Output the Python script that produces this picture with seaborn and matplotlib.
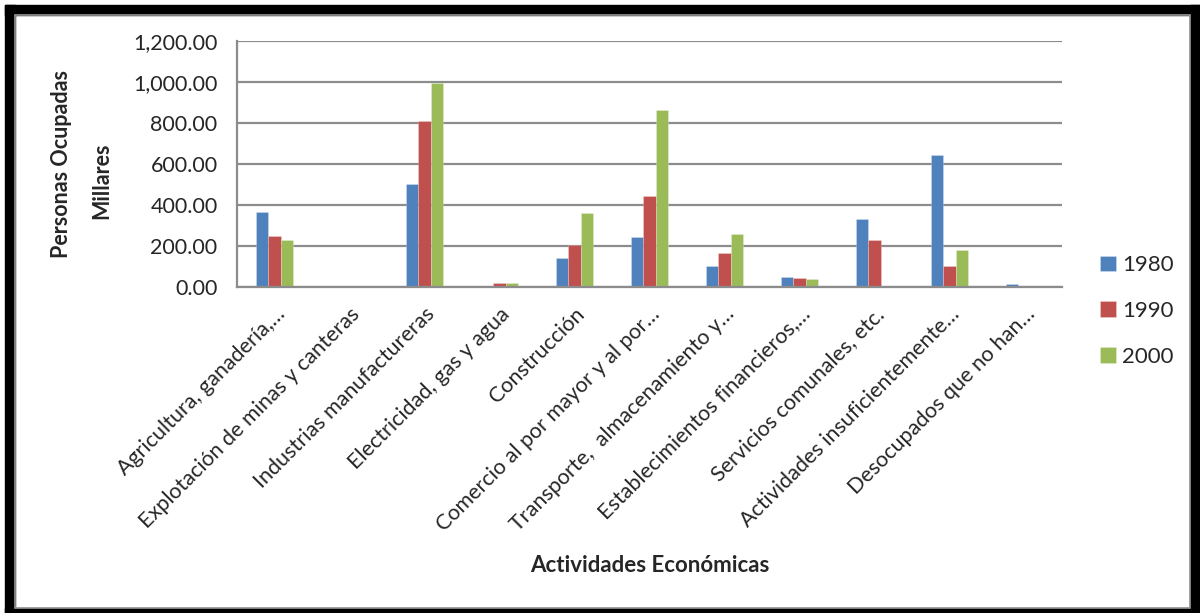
import seaborn as sns
import matplotlib.pyplot as plt
import matplotlib.ticker as mticker
import matplotlib.transforms as mtransforms
import pandas as pd
from matplotlib.patches import Rectangle

categories = [
    'Agricultura, ganadería,…',
    'Explotación de minas y canteras',
    'Industrias manufactureras',
    'Electricidad, gas y agua',
    'Construcción',
    'Comercio al por mayor y al por…',
    'Transporte,  almacenamiento y…',
    'Establecimientos financieros,…',
    'Servicios comunales, etc.',
    'Actividades insuficientemente…',
    'Desocupados que no han…',
]
years = ['1980', '1990', '2000']
v1980 = [368, 4, 504, 6, 141, 243, 104, 49, 331, 642, 16]
v1990 = [247, 4, 811, 21, 203, 444, 165, 45, 229, 104, 0]
v2000 = [230, 6, 997, 21, 362, 863, 260, 39, 0, 182, 0]
colors = ['#4F81BD', '#C0504D', '#9BBB59']


def run():
    rows = []
    for year, vals in zip(years, [v1980, v1990, v2000]):
        for cat, v in zip(categories, vals):
            rows.append({'actividad': cat, 'anio': year, 'valor': v})
    df = pd.DataFrame(rows)

    sns.set_style('white')
    plt.rcParams['font.family'] = ['Lato', 'DejaVu Sans']

    fig = plt.figure(figsize=(12, 6.13), dpi=100)
    ax = fig.add_axes([237 / 1200, 1 - 287 / 613, (1062 - 237) / 1200, (287 - 41) / 613])

    sns.barplot(df, x='actividad', y='valor', hue='anio', palette=colors,
                width=0.5, saturation=1, ax=ax, edgecolor=(1, 1, 1, 0.4), linewidth=0.4)

    ax.set_ylim(0, 1200)
    ax.set_yticks(range(0, 1201, 200))
    ax.yaxis.set_major_formatter(mticker.FuncFormatter(lambda v, p: f'{v:,.2f}'))
    ax.yaxis.grid(True, color='#8c8c8c', linewidth=1.6)
    ax.set_axisbelow(True)
    for s in ('top', 'right'):
        ax.spines[s].set_visible(False)
    for s in ('left', 'bottom'):
        ax.spines[s].set_color('#8c8c8c')
        ax.spines[s].set_linewidth(1.6)
    ax.tick_params(axis='y', length=5, color='#8c8c8c', width=1.2, labelsize=15.5, pad=9)
    ax.tick_params(axis='x', length=0, labelsize=15.5, pad=15)
    shift = mtransforms.ScaledTranslation(7 / 100, -3 / 100, fig.dpi_scale_trans)
    for lab in ax.get_xticklabels():
        lab.set_rotation(45)
        lab.set_ha('right')
        lab.set_va('center')
        lab.set_rotation_mode('anchor')
        lab.set_transform(lab.get_transform() + shift)
    ax.set_xlabel('')
    ax.set_ylabel('')

    fig.text(650 / 1200, 1 - 565 / 613, 'Actividades Económicas', ha='center', va='center',
             fontsize=16, fontweight='bold')
    fig.text(61 / 1200, 1 - 164 / 613, 'Personas Ocupadas', ha='center', va='center',
             rotation=90, fontsize=15.5, fontweight='bold')
    fig.text(102 / 1200, 1 - 181 / 613, 'Millares', ha='center', va='center',
             rotation=90, fontsize=15.5, fontweight='bold')

    handles, labels = ax.get_legend_handles_labels()
    ax.legend(handles, labels, loc='center left', bbox_to_anchor=(1080 / 1200, 1 - 311 / 613),
              bbox_transform=fig.transFigure, frameon=False, fontsize=16,
              handlelength=0.7, handleheight=0.7, handletextpad=0.3, labelspacing=1.15)

    # marco exterior
    for (x0, y0, w, h) in [(5, 5, 10, 608), (5, 5, 1195, 10), (1190, 5, 10, 608), (5, 608, 1195, 5)]:
        fig.patches.append(Rectangle((x0 / 1200, 1 - (y0 + h) / 613), w / 1200, h / 613,
                                     transform=fig.transFigure, color='black', zorder=10))
    fig.patches.append(Rectangle((15 / 1200, 1 - 608 / 613), 1175 / 1200, 593 / 613,
                                 transform=fig.transFigure, fill=False, edgecolor='#999999',
                                 linewidth=1.2, zorder=11))

    fig.savefig('out.png', dpi=100)


run()
